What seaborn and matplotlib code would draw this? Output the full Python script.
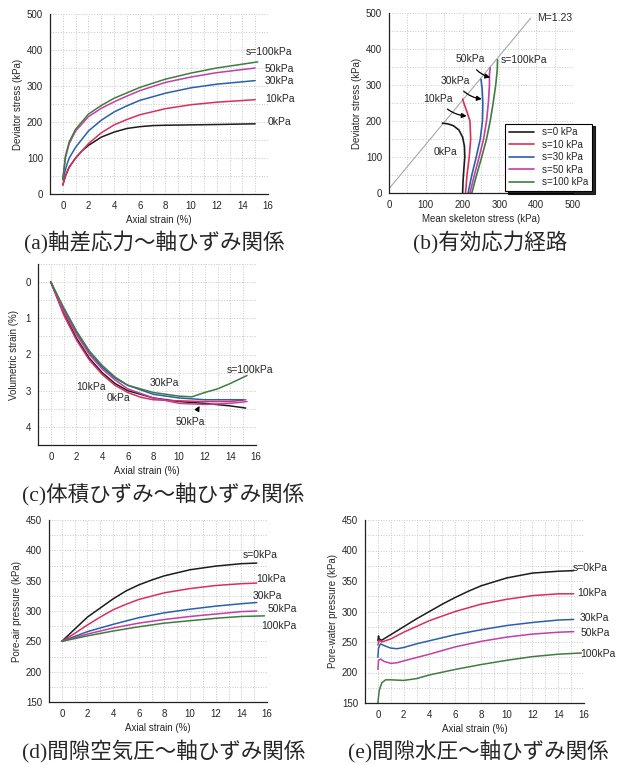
import numpy as np
import pandas as pd
import matplotlib
matplotlib.use("Agg")
import matplotlib.pyplot as plt
import seaborn as sns
from matplotlib.ticker import MultipleLocator

# ---- data ----
suctions = ["0", "10", "30", "50", "100"]
colors = ["#1c1c1c", "#d8305a", "#2a5fae", "#c53ea6", "#3f7d3f"]

# (a) deviator stress vs axial strain
a_x = {
    "0": [0, 0.2, 0.5, 1, 1.5, 2, 3, 4, 5, 6, 7, 8, 10, 12, 15],
    "10": [0, 0.2, 0.5, 1, 2, 3, 4, 5, 6, 8, 10, 12, 15],
    "30": [0, 0.3, 0.5, 1, 2, 3, 4, 5, 6, 8, 10, 12, 15],
    "50": [0, 0.2, 0.5, 1, 2, 3, 4, 5, 6, 8, 10, 12, 15],
    "100": [0, 0.2, 0.5, 1, 2, 3, 4, 5, 6, 8, 10, 12, 15.2],
}
a_q = {
    "0": [25, 50, 75, 100, 120, 135, 158, 172, 182, 187, 190, 191, 192, 193, 195],
    "10": [25, 50, 75, 100, 140, 170, 192, 207, 220, 237, 248, 255, 262],
    "30": [40, 80, 100, 130, 175, 205, 228, 245, 260, 280, 295, 305, 315],
    "50": [40, 100, 140, 175, 215, 238, 256, 272, 287, 310, 325, 337, 350],
    "100": [40, 105, 145, 180, 222, 246, 266, 281, 296, 319, 336, 350, 367],
}

# (b) effective stress paths
b_p = {
    "0": [200, 201, 203, 206, 205, 200, 190, 175, 160, 145],
    "10": [208, 212, 218, 222, 220, 212, 205, 200],
    "30": [215, 225, 237, 248, 254, 255, 253, 250],
    "50": [220, 232, 245, 257, 265, 270, 273, 273, 275],
    "100": [225, 238, 252, 265, 275, 283, 290, 294, 295],
}
b_q = {
    "0": [0, 30, 60, 100, 130, 155, 175, 187, 192, 194],
    "10": [0, 50, 100, 150, 200, 225, 245, 261],
    "30": [0, 50, 100, 150, 200, 250, 290, 316],
    "50": [0, 50, 100, 150, 200, 250, 300, 330, 348],
    "100": [0, 50, 100, 150, 200, 250, 300, 340, 370],
}
M_slope = 1.23
M_p = [0, 385]

# (c) volumetric strain vs axial strain
c_x = {
    "0": [0, 1, 2, 3, 4, 5, 6, 8, 10, 12, 14, 15.2],
    "10": [0, 1, 2, 3, 4, 5, 6, 7, 8, 10, 12, 14, 15.2],
    "30": [0, 1, 2, 3, 4, 5, 6, 8, 10, 12, 14, 15],
    "50": [0, 1, 2, 3, 4, 5, 6, 8, 10, 12, 14, 15.3],
    "100": [0, 1, 2, 3, 4, 5, 6, 8, 10, 11, 12, 13, 14, 15.3],
}
c_ev = {
    "0": [0, 0.85, 1.55, 2.1, 2.5, 2.8, 3.0, 3.2, 3.3, 3.35, 3.42, 3.48],
    "10": [0, 0.9, 1.6, 2.15, 2.55, 2.85, 3.05, 3.18, 3.25, 3.28, 3.3, 3.3, 3.25],
    "30": [0, 0.75, 1.4, 1.95, 2.35, 2.65, 2.85, 3.1, 3.2, 3.25, 3.25, 3.25],
    "50": [0, 0.8, 1.45, 2.0, 2.4, 2.7, 2.95, 3.2, 3.35, 3.38, 3.35, 3.3],
    "100": [0, 0.7, 1.35, 1.9, 2.3, 2.62, 2.85, 3.05, 3.15, 3.17, 3.05, 2.95, 2.8, 2.58],
}

# (d) pore-air pressure vs axial strain
d_x = {
    "0": [0, 1, 2, 3, 4, 5, 6, 7, 8, 10, 12, 14, 15.2],
    "10": [0, 1, 2, 3, 4, 5, 6, 8, 10, 12, 14, 15.2],
    "30": [0, 1, 2, 4, 6, 8, 10, 12, 14, 15.2],
    "50": [0, 2, 4, 6, 8, 10, 12, 14, 15.2],
    "100": [0, 2, 4, 6, 8, 10, 12, 14, 15.8],
}
d_ua = {
    "0": [250, 270, 290, 305, 320, 333, 343, 351, 358, 368, 374, 378, 379],
    "10": [250, 263, 277, 290, 302, 311, 319, 330, 337, 342, 345, 346],
    "30": [250, 258, 266, 278, 289, 297, 303, 308, 312, 314],
    "50": [250, 262, 272, 280, 286, 291, 295, 299, 300],
    "100": [250, 259, 267, 274, 280, 284, 288, 291, 292],
}

# (e) pore-water pressure vs axial strain
e_x = {
    "0": [0, 0.05, 0.1, 0.3, 1, 2, 3, 4, 5, 6, 7, 8, 10, 12, 14, 15.2],
    "10": [0, 0.1, 0.3, 1, 2, 4, 6, 8, 10, 12, 14, 15.2],
    "30": [0, 0.05, 0.2, 0.5, 1, 1.5, 2, 3, 4, 6, 8, 10, 12, 14, 15.2],
    "50": [0, 0.05, 0.2, 0.5, 1, 1.5, 2, 4, 6, 8, 10, 12, 14, 15.2],
    "100": [0, 0.1, 0.3, 0.6, 1, 2, 3, 4, 6, 8, 10, 12, 14, 15.8],
}
e_uw = {
    "0": [252, 260, 255, 253, 262, 275, 288, 300, 312, 323, 333, 342, 355, 363, 366, 367],
    "10": [245, 253, 250, 255, 266, 285, 300, 312, 320, 326, 329, 329],
    "30": [225, 240, 247, 244, 240, 239, 241, 247, 252, 262, 270, 277, 282, 286, 287],
    "50": [205, 220, 222, 218, 215, 216, 219, 230, 242, 251, 258, 263, 266, 267],
    "100": [150, 170, 183, 188, 188, 187, 190, 196, 205, 213, 220, 226, 230, 232],
}

a_labels = ["0kPa", "10kPa", "30kPa", "50kPa", "s=100kPa"]
d_labels = ["s=0kPa", "10kPa", "30kPa", "50kPa", "100kPa"]
legend_labels = ["s=0 kPa", "s=10 kPa", "s=30 kPa", "s=50 kPa", "s=100 kPa"]


def long_df(xs, ys, xname, yname):
    rows = []
    for s in suctions:
        for i, (x, y) in enumerate(zip(xs[s], ys[s])):
            rows.append({"s": s, "order": i, xname: x, yname: y})
    return pd.DataFrame(rows)


sns.set_style("white")
plt.rcParams["font.family"] = ["Liberation Sans", "DejaVu Sans"]
plt.rcParams["xtick.labelsize"] = 7
plt.rcParams["ytick.labelsize"] = 7
plt.rcParams["axes.labelsize"] = 7

W, H = 618, 765
fig = plt.figure(figsize=(W / 100, H / 100), dpi=100)


def add_ax(left, top, right, bottom):
    return fig.add_axes([left / W, 1 - bottom / H, (right - left) / W, (bottom - top) / H])


def style(ax, xmaj, xmin, ymaj, ymin):
    ax.xaxis.set_major_locator(MultipleLocator(xmaj))
    ax.xaxis.set_minor_locator(MultipleLocator(xmin))
    ax.yaxis.set_major_locator(MultipleLocator(ymaj))
    ax.yaxis.set_minor_locator(MultipleLocator(ymin))
    ax.grid(which="both", color="#c8c8c8", linestyle=":", linewidth=0.7)
    for sp in ["top", "right"]:
        ax.spines[sp].set_visible(False)
    for sp in ["left", "bottom"]:
        ax.spines[sp].set_linewidth(0.9)
        ax.spines[sp].set_color("#222222")
    ax.tick_params(which="major", direction="out", length=3, width=0.8, pad=2)
    ax.tick_params(which="minor", direction="out", length=1.5, width=0.6)


pal = dict(zip(suctions, colors))

# ---- (a) ----
ax = add_ax(50, 14, 268, 194)
df = long_df(a_x, a_q, "x", "y")
sns.lineplot(data=df, x="x", y="y", hue="s", palette=pal, sort=False,
             estimator=None, units="s", legend=False, lw=1.1, ax=ax)
ax.set_xlim(-1, 16)
ax.set_ylim(0, 500)
style(ax, 2, 1, 100, 50)
ax.set_xlabel("Axial strain (%)", labelpad=3)
ax.set_ylabel("Deviator stress (kPa)", labelpad=3)
for lab, (lx, ly) in zip(a_labels, [(16.9, 199), (16.9, 263), (16.9, 314), (16.9, 347), (16.1, 394)]):
    ax.text(lx, ly, lab, fontsize=7.5, ha="center", va="center", clip_on=False)

# ---- (b) ----
ax = add_ax(389, 13, 573, 193)
df = long_df(b_p, b_q, "x", "y")
df["lab"] = df["s"].map(dict(zip(suctions, legend_labels)))
ax.plot(M_p, [M_slope * p + 12 for p in M_p], color="#a8a8a8", lw=0.8)
sns.lineplot(data=df, x="x", y="y", hue="lab", palette=dict(zip(legend_labels, colors)),
             sort=False, estimator=None, units="lab", lw=1.2, ax=ax)
ax.set_xlim(0, 500)
ax.set_ylim(0, 500)
style(ax, 100, 50, 100, 50)
ax.set_xlabel("Mean skeleton stress (kPa)", labelpad=3)
ax.set_ylabel("Deviator stress (kPa)", labelpad=3)
leg = ax.legend(loc="lower right", bbox_to_anchor=(1.103, 0.011), borderaxespad=0,
                fontsize=7, frameon=True, fancybox=False,
                shadow={"color": "black", "alpha": 0.85},
                handlelength=2.6, labelspacing=0.25, borderpad=0.4)
leg.get_frame().set_edgecolor("black")
leg.get_frame().set_linewidth(0.8)
ax.text(449, 487, "M=1.23", fontsize=7.5, ha="center", va="center")
ax.text(154, 115, "0kPa", fontsize=7.5, ha="center", va="center")
ax.text(367, 369, "s=100kPa", fontsize=7.5, ha="center", va="center")
arrow = dict(arrowstyle="-|>", color="black", lw=0.9, mutation_scale=7,
             connectionstyle="arc3,rad=0.25", shrinkA=2, shrinkB=0)
ax.annotate("10kPa", xy=(211, 214), xytext=(134, 261), fontsize=7.5,
            ha="center", va="center", arrowprops=arrow)
ax.annotate("30kPa", xy=(252, 261), xytext=(181, 311), fontsize=7.5,
            ha="center", va="center", arrowprops=arrow)
ax.annotate("50kPa", xy=(275, 321), xytext=(220, 371), fontsize=7.5,
            ha="center", va="center", arrowprops=arrow)

# ---- (c) ----
ax = add_ax(38, 264, 256, 445)
df = long_df(c_x, c_ev, "x", "y")
sns.lineplot(data=df, x="x", y="y", hue="s", palette=pal, sort=False,
             estimator=None, units="s", legend=False, lw=1.1, ax=ax)
ax.set_xlim(-1, 16)
ax.set_ylim(4.5, -0.5)
style(ax, 2, 1, 1, 0.5)
ax.set_xlabel("Axial strain (%)", labelpad=3)
ax.set_ylabel("Volumetric strain (%)", labelpad=5)
ax.text(15.5, 2.43, "s=100kPa", fontsize=7.5, ha="center", va="center", clip_on=False)
ax.text(8.86, 2.8, "30kPa", fontsize=7.5, ha="center", va="center")
ax.text(3.1, 2.89, "10kPa", fontsize=7.5, ha="center", va="center")
ax.text(5.3, 3.2, "0kPa", fontsize=7.5, ha="center", va="center")
ax.annotate("50kPa", xy=(11.6, 3.42), xytext=(10.9, 3.87), fontsize=7.5, ha="center",
            va="center", arrowprops=dict(arrowstyle="-|>", color="black", lw=0.9,
                                         mutation_scale=7, shrinkA=3, shrinkB=0))

# ---- (d) ----
ax = add_ax(49, 520, 267, 702)
df = long_df(d_x, d_ua, "x", "y")
sns.lineplot(data=df, x="x", y="y", hue="s", palette=pal, sort=False,
             estimator=None, units="s", legend=False, lw=1.1, ax=ax)
ax.set_xlim(-1, 16)
ax.set_ylim(150, 450)
style(ax, 2, 1, 50, 25)
ax.set_xlabel("Axial strain (%)", labelpad=3)
ax.set_ylabel("Pore-air pressure (kPa)", labelpad=3)
for lab, (lx, ly) in zip(d_labels, [(15.5, 393), (16.3, 353), (16.0, 325), (17.2, 303), (16.9, 276)]):
    ax.text(lx, ly, lab, fontsize=7.5, ha="center", va="center", clip_on=False)

# ---- (e) ----
ax = add_ax(365, 520, 584, 703)
df = long_df(e_x, e_uw, "x", "y")
sns.lineplot(data=df, x="x", y="y", hue="s", palette=pal, sort=False,
             estimator=None, units="s", legend=False, lw=1.1, ax=ax)
ax.set_xlim(-1, 16)
ax.set_ylim(150, 450)
style(ax, 2, 1, 50, 25)
ax.set_xlabel("Axial strain (%)", labelpad=3)
ax.set_ylabel("Pore-water pressure (kPa)", labelpad=3)
for lab, (lx, ly) in zip(d_labels, [(16.5, 372), (16.6, 330), (16.8, 290), (16.85, 265), (17.1, 230)]):
    ax.text(lx, ly, lab, fontsize=7.5, ha="center", va="center", clip_on=False)

# ---- captions ----
cap_font = ["Liberation Serif", "Noto Sans CJK JP"]
captions = ["(a)軸差応力～軸ひずみ関係", "(b)有効応力経路", "(c)体積ひずみ～軸ひずみ関係",
            "(d)間隙空気圧～軸ひずみ関係", "(e)間隙水圧～軸ひずみ関係"]
cap_pos = [(154, 243), (490, 243), (163, 494), (164, 751), (478, 751)]
for cap, (cx, cy) in zip(captions, cap_pos):
    fig.text(cx / W, 1 - cy / H, cap, fontsize=15.5, family=cap_font, ha="center", va="center")

fig.savefig("out.png", dpi=100)
